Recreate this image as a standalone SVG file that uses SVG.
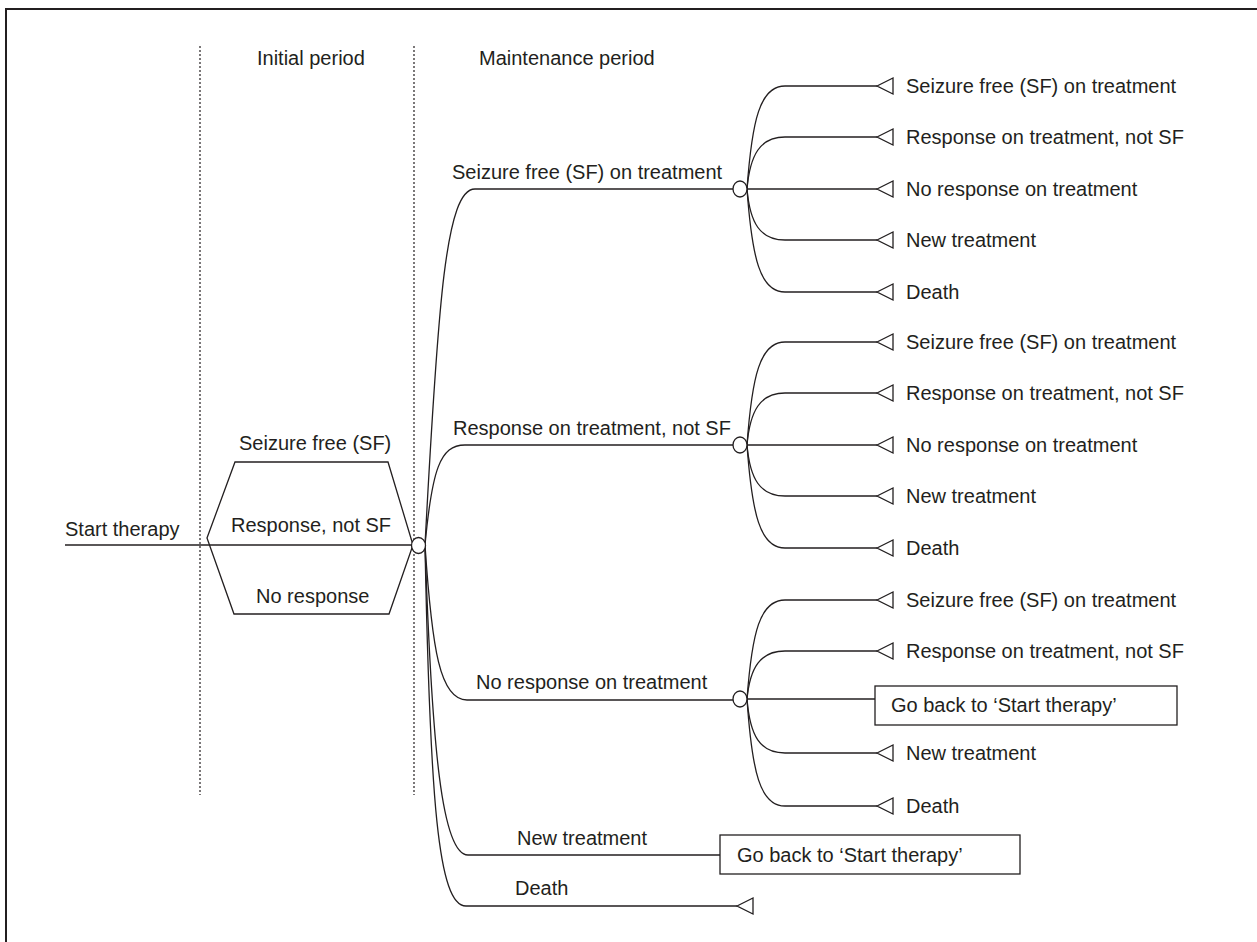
<svg xmlns="http://www.w3.org/2000/svg" width="1257" height="942" viewBox="0 0 1257 942">
<style>
text{font-family:"Liberation Sans",Arial,sans-serif;font-size:20px;fill:#231f20}
.ln{fill:none;stroke:#231f20;stroke-width:1.3}
.dash{fill:none;stroke:#231f20;stroke-width:1.2;stroke-dasharray:2 2}
.node{fill:#fff;stroke:#231f20;stroke-width:1.3}
.tri{fill:#fff;stroke:#231f20;stroke-width:1.3;stroke-linejoin:miter}
</style>
<defs>
<polygon id="term" class="tri" points="0,0 16,-8 16,8"/>
<ellipse id="chance" class="node" cx="0" cy="0" rx="7" ry="8"/>
</defs>
<rect width="1257" height="942" fill="#fff"/>
<path d="M6,942 V9 H1257" fill="none" stroke="#231f20" stroke-width="2"/>
<g id="periods">
<line class="dash" x1="200" y1="46" x2="200" y2="795"/>
<line class="dash" x1="414" y1="46" x2="414" y2="795"/>
<text x="257" y="65">Initial period</text>
<text x="479" y="65">Maintenance period</text>
</g>
<g id="connectors">
<path class="ln" d="M65,545 H411"/>
<path class="ln" d="M425,545 C438,300 446,189 475,189 H733"/>
<path class="ln" d="M425,545 C432,470 440,445 465,445 H733"/>
<path class="ln" d="M425,545 C432,650 440,700 467,700 H733"/>
<path class="ln" d="M425,545 C432,750 442,855 468,855 H720"/>
<path class="ln" d="M425,545 C430,800 438,906 466,906 H737"/>
<g id="g1c">
<path class="ln" d="M747,189 C752,120 760,86 785,86 H877"/>
<path class="ln" d="M747,189 C750,155 760,137 785,137 H877"/>
<path class="ln" d="M747,189 H877"/>
<path class="ln" d="M747,189 C750,223 760,240 785,240 H877"/>
<path class="ln" d="M747,189 C752,258 760,292 785,292 H877"/>
</g>
<g id="g2c">
<path class="ln" d="M747,445 C752,376 760,342 785,342 H877"/>
<path class="ln" d="M747,445 C750,411 760,393 785,393 H877"/>
<path class="ln" d="M747,445 H877"/>
<path class="ln" d="M747,445 C750,479 760,496 785,496 H877"/>
<path class="ln" d="M747,445 C752,514 760,548 785,548 H877"/>
</g>
<g id="g3c">
<path class="ln" d="M747,699 C752,632 760,600 785,600 H877"/>
<path class="ln" d="M747,699 C750,668 760,651 785,651 H877"/>
<path class="ln" d="M747,699 H875"/>
<path class="ln" d="M747,699 C750,736 760,753 785,753 H877"/>
<path class="ln" d="M747,699 C752,772 760,806 785,806 H877"/>
</g>
</g>
<g id="start">
<text x="65" y="536">Start therapy</text>
</g>
<g id="initial-hex">
<polygon class="ln" points="207,538 235,462 388,462 413,545 389,614 234,614"/>
<text x="239" y="450">Seizure free (SF)</text>
<text x="231" y="532">Response, not SF</text>
<text x="256" y="603">No response</text>
</g>
<g id="chance0"><use href="#chance" x="418.5" y="545.5"/></g>
<g id="sf-node">
<text x="452" y="179">Seizure free (SF) on treatment</text>
<use href="#chance" x="740" y="189"/>
<use href="#term" x="877" y="86"/><text x="906" y="93">Seizure free (SF) on treatment</text>
<use href="#term" x="877" y="137"/><text x="906" y="144">Response on treatment, not SF</text>
<use href="#term" x="877" y="189"/><text x="906" y="196">No response on treatment</text>
<use href="#term" x="877" y="240"/><text x="906" y="247">New treatment</text>
<use href="#term" x="877" y="292"/><text x="906" y="299">Death</text>
</g>
<g id="resp-node">
<text x="453" y="435">Response on treatment, not SF</text>
<use href="#chance" x="740" y="445"/>
<use href="#term" x="877" y="342"/><text x="906" y="349">Seizure free (SF) on treatment</text>
<use href="#term" x="877" y="393"/><text x="906" y="400">Response on treatment, not SF</text>
<use href="#term" x="877" y="445"/><text x="906" y="452">No response on treatment</text>
<use href="#term" x="877" y="496"/><text x="906" y="503">New treatment</text>
<use href="#term" x="877" y="548"/><text x="906" y="555">Death</text>
</g>
<g id="noresp-node">
<text x="476" y="689">No response on treatment</text>
<use href="#chance" x="740" y="699"/>
<use href="#term" x="877" y="600"/><text x="906" y="607">Seizure free (SF) on treatment</text>
<use href="#term" x="877" y="651"/><text x="906" y="658">Response on treatment, not SF</text>
<use href="#term" x="877" y="753"/><text x="906" y="760">New treatment</text>
<use href="#term" x="877" y="806"/><text x="906" y="813">Death</text>
</g>
<g id="goback1">
<rect class="node" x="875" y="686" width="302" height="39"/>
<text x="891" y="712">Go back to ‘Start therapy’</text>
</g>
<g id="newtreat">
<text x="517" y="845">New treatment</text>
</g>
<g id="goback2">
<rect class="node" x="720" y="835" width="300" height="39"/>
<text x="737" y="862">Go back to ‘Start therapy’</text>
</g>
<g id="death">
<text x="515" y="895">Death</text>
<use href="#term" x="737" y="906"/>
</g>
</svg>
